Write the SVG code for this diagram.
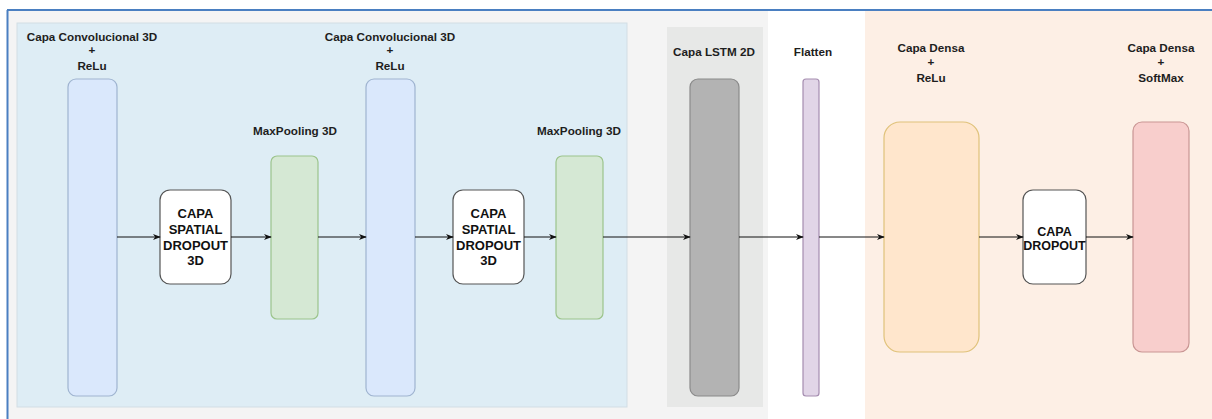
<svg xmlns="http://www.w3.org/2000/svg" width="1212" height="419" viewBox="0 0 1212 419">
  <defs>
    <marker id="arrow" viewBox="0 0 10 10" refX="9" refY="5" markerWidth="8" markerHeight="8" markerUnits="userSpaceOnUse" orient="auto">
      <path d="M0,1 L10,5 L0,9 L3,5 Z" fill="#111"/>
    </marker>
  </defs>
  <style>
    .lbl { font-family: "Liberation Sans", Arial, sans-serif; font-weight: bold; font-size: 11.7px; fill: #1e1e1e; text-anchor: middle; }
    .box { font-family: "Liberation Sans", Arial, sans-serif; font-weight: bold; font-size: 13px; fill: #111; text-anchor: middle; }
    .conv { fill: #dae8fc; stroke: #9fb4d0; stroke-width: 1.2; }
    .pool { fill: #d5e8d4; stroke: #9cc48c; stroke-width: 1.2; }
    .drop { fill: #ffffff; stroke: #555; stroke-width: 1.2; }
    .lstm { fill: #b3b3b3; stroke: #8a8a8a; stroke-width: 1.2; }
    .flat { fill: #e1d5e7; stroke: #a58db0; stroke-width: 1.2; }
    .dense { fill: #ffe6cc; stroke: #e0c27a; stroke-width: 1.2; }
    .soft { fill: #f8cecc; stroke: #c99593; stroke-width: 1.2; }
    .edge { stroke: #111; stroke-width: 1; fill: none; marker-end: url(#arrow); }
  </style>

  <!-- background panels -->
  <g id="panels">
    <rect x="0" y="0" width="1212" height="419" fill="#ffffff"/>
    <rect x="8" y="10" width="760" height="409" fill="#f4f4f4"/>
    <rect x="17" y="23" width="610" height="384" fill="#deedf5" stroke="#d2dde4" stroke-width="1"/>
    <rect x="667" y="27" width="96" height="380" fill="#e7e8e7"/>
    <rect x="865" y="10" width="347" height="409" fill="#fdefe5"/>
    <line x1="7.5" y1="10" x2="7.5" y2="419" stroke="#4a7fc1" stroke-width="2"/>
    <line x1="7" y1="10" x2="1212" y2="10" stroke="#4a7fc1" stroke-width="2"/>
  </g>

  <g id="conv1">
    <rect class="conv" x="68" y="79" width="49" height="317" rx="8"/>
    <text class="lbl" x="92" y="41">Capa Convolucional 3D</text>
    <text class="lbl" x="92" y="54">+</text>
    <text class="lbl" x="92" y="70">ReLu</text>
  </g>

  <g id="sdrop1">
    <rect class="drop" x="160" y="190" width="71" height="94" rx="10"/>
    <text class="box" x="195.5" y="218">CAPA</text>
    <text class="box" x="195.5" y="234">SPATIAL</text>
    <text class="box" x="195.5" y="250">DROPOUT</text>
    <text class="box" x="195.5" y="265">3D</text>
  </g>

  <g id="pool1">
    <rect class="pool" x="271" y="156" width="47" height="163" rx="6"/>
    <text class="lbl" x="295" y="135">MaxPooling 3D</text>
  </g>

  <g id="conv2">
    <rect class="conv" x="366" y="79" width="49" height="317" rx="8"/>
    <text class="lbl" x="390" y="41">Capa Convolucional 3D</text>
    <text class="lbl" x="390" y="54">+</text>
    <text class="lbl" x="390" y="70">ReLu</text>
  </g>

  <g id="sdrop2">
    <rect class="drop" x="453" y="190" width="71" height="94" rx="10"/>
    <text class="box" x="488.5" y="218">CAPA</text>
    <text class="box" x="488.5" y="234">SPATIAL</text>
    <text class="box" x="488.5" y="250">DROPOUT</text>
    <text class="box" x="488.5" y="265">3D</text>
  </g>

  <g id="pool2">
    <rect class="pool" x="556" y="156" width="47" height="163" rx="6"/>
    <text class="lbl" x="579" y="135">MaxPooling 3D</text>
  </g>

  <g id="lstm">
    <rect class="lstm" x="690" y="79" width="49" height="317" rx="8"/>
    <text class="lbl" x="714" y="56">Capa LSTM 2D</text>
  </g>

  <g id="flatten">
    <rect class="flat" x="803" y="79" width="16" height="317" rx="3"/>
    <text class="lbl" x="813" y="56">Flatten</text>
  </g>

  <g id="dense1">
    <rect class="dense" x="884" y="122" width="95" height="230" rx="16"/>
    <text class="lbl" x="931" y="52">Capa Densa</text>
    <text class="lbl" x="931" y="66">+</text>
    <text class="lbl" x="931" y="82">ReLu</text>
  </g>

  <g id="dropout">
    <rect class="drop" x="1023" y="190" width="63" height="94" rx="10"/>
    <text class="box" x="1054.5" y="236" style="font-size:12.5px">CAPA</text>
    <text class="box" x="1054.5" y="250" style="font-size:12.5px">DROPOUT</text>
  </g>

  <g id="dense2">
    <rect class="soft" x="1133" y="122" width="56" height="230" rx="9"/>
    <text class="lbl" x="1161" y="52">Capa Densa</text>
    <text class="lbl" x="1161" y="66">+</text>
    <text class="lbl" x="1161" y="82">SoftMax</text>
  </g>

  <g id="connectors">
    <line class="edge" x1="117" y1="237" x2="160" y2="237"/>
    <line class="edge" x1="231" y1="237" x2="271" y2="237"/>
    <line class="edge" x1="318" y1="237" x2="366" y2="237"/>
    <line class="edge" x1="415" y1="237" x2="453" y2="237"/>
    <line class="edge" x1="524" y1="237" x2="556" y2="237"/>
    <line class="edge" x1="603" y1="237" x2="690" y2="237"/>
    <line class="edge" x1="739" y1="237" x2="803" y2="237"/>
    <line class="edge" x1="819" y1="237" x2="884" y2="237"/>
    <line class="edge" x1="979" y1="237" x2="1023" y2="237"/>
    <line class="edge" x1="1086" y1="237" x2="1133" y2="237"/>
  </g>
</svg>
